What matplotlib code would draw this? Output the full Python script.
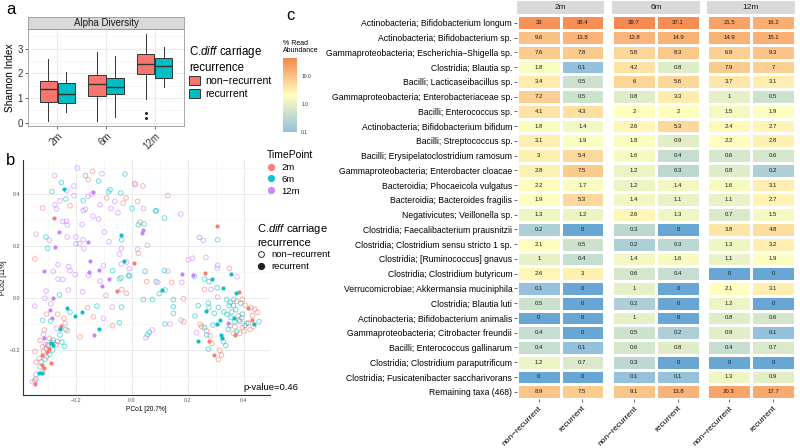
import matplotlib
matplotlib.use('Agg')
import matplotlib.pyplot as plt
import numpy as np
from matplotlib.colors import LinearSegmentedColormap, Normalize
from matplotlib.patches import Patch
from matplotlib.lines import Line2D

plt.rcParams['font.family'] = ['Liberation Sans', 'DejaVu Sans']
plt.rcParams['mathtext.fontset'] = 'custom'
plt.rcParams['mathtext.rm'] = 'Liberation Sans'
plt.rcParams['mathtext.it'] = 'Liberation Sans:italic'

RED, CYAN, PURPLE = '#F8766D', '#00BFC4', '#C77CFF'
GRID = '#EBEBEB'
W, H = 800, 448

# ========== DATA: alpha diversity (box stats: whislo, q1, med, q3, whishi) ==========
timepoints = ['2m', '6m', '12m']
groups = ['non\u2212recurrent', 'recurrent']
shannon_nonrec = [[0.07, 0.85, 1.36, 1.69, 2.57],
                  [0.08, 1.09, 1.57, 1.94, 2.85],
                  [0.95, 1.96, 2.36, 2.77, 3.59]]
shannon_rec = [[0.45, 0.81, 1.17, 1.62, 2.05],
               [0.22, 1.15, 1.43, 1.80, 2.70],
               [1.46, 1.82, 2.30, 2.62, 3.08]]
outliers_nonrec = [[], [], [0.39, 0.18]]
outliers_rec = [[], [], []]

# ========== DATA: PCoA (PCo1, PCo2) ==========
pco_2m_nonrec = np.array([
    [-0.140, 0.487], [-0.155, 0.455], [0.011, 0.441], [0.040, 0.431], [-0.089, 0.385],
    [-0.020, 0.385], [-0.030, 0.365], [0.021, 0.372], [-0.220, 0.355], [-0.318, 0.346],
    [0.030, 0.292], [-0.346, 0.150], [0.024, 0.172], [0.129, 0.394], [0.349, 0.114],
    [0.054, 0.063], [-0.035, 0.033], [-0.092, 0.010], [-0.018, 0.018], [-0.158, -0.037],
    [-0.304, -0.062], [-0.264, -0.062], [-0.242, -0.078], [-0.237, -0.097], [-0.137, -0.072],
    [-0.068, -0.106], [-0.312, -0.123], [-0.229, -0.126], [-0.185, -0.149], [-0.294, -0.155],
    [-0.327, -0.163], [-0.298, -0.185], [-0.318, -0.187], [-0.315, -0.206], [-0.345, -0.206],
    [-0.304, -0.226], [-0.330, -0.232], [-0.323, -0.245], [-0.342, -0.247], [-0.318, -0.286],
    [-0.346, -0.319], [0.143, 0.060], [0.260, 0.033], [0.185, -0.003], [0.375, -0.012],
    [0.395, -0.005], [0.405, -0.027], [0.426, -0.037], [0.440, -0.044], [0.381, -0.068],
    [0.393, -0.076], [0.431, -0.068], [0.449, -0.055], [0.186, -0.091], [0.245, -0.101],
    [0.280, -0.145], [0.286, -0.174], [0.315, -0.201], [0.321, -0.219], [0.310, -0.236],
    [0.386, -0.091], [0.395, -0.114], [0.402, -0.127], [0.423, -0.121], [0.435, -0.110],
    [0.351, -0.106], [0.369, -0.110], [0.363, -0.136], [0.385, -0.136], [0.417, -0.097],
    [0.250, -0.110], [0.268, -0.126], [-0.285, -0.170], [-0.270, -0.180], [-0.305, -0.195],
])
pco_2m_rec = np.array([
    [-0.277, 0.309], [0.010, 0.136], [0.304, 0.279], [0.263, 0.097], [-0.051, 0.026],
    [-0.254, -0.106], [-0.296, -0.196], [-0.304, -0.206], [-0.320, -0.219], [-0.289, -0.250],
    [-0.320, -0.258], [-0.313, -0.271], [-0.346, -0.329], [0.383, 0.024], [0.414, -0.040],
    [0.429, -0.086], [0.369, -0.142], [0.276, -0.164], [0.295, -0.219],
])
pco_6m_nonrec = np.array([
    [-0.024, 0.477], [-0.165, 0.471], [-0.118, 0.450], [-0.251, 0.444], [-0.285, 0.409],
    [-0.077, 0.417], [-0.082, 0.409], [-0.039, 0.404], [-0.235, 0.381], [-0.173, 0.374],
    [0.002, 0.344], [0.085, 0.335], [0.024, 0.282], [0.044, 0.285], [-0.306, 0.235],
    [-0.036, 0.224], [-0.300, 0.191], [-0.068, 0.105], [0.048, 0.103], [-0.011, 0.087],
    [0.088, 0.336], [0.117, 0.308], [0.242, 0.233], [0.307, 0.224], [0.117, 0.106],
    [0.224, 0.083], [-0.044, 0.073], [-0.038, 0.078], [-0.008, 0.085], [0.087, 0.063],
    [-0.258, 0.012], [0.042, -0.006], [0.074, -0.006], [-0.124, -0.031], [-0.036, -0.035],
    [-0.220, -0.055], [-0.318, -0.086], [-0.289, -0.088], [-0.044, -0.095], [-0.235, -0.121],
    [-0.256, -0.142], [0.063, -0.132], [0.056, -0.142], [-0.280, -0.162], [-0.265, -0.167],
    [-0.249, -0.169], [-0.239, -0.186], [-0.282, -0.200], [-0.294, -0.217], [-0.327, -0.265],
    [-0.342, -0.312], [0.119, 0.031], [0.098, 0.017], [0.260, 0.073], [0.276, 0.063],
    [0.305, 0.040], [0.149, -0.006], [0.339, -0.006], [0.274, -0.019], [0.238, -0.029],
    [0.352, -0.017], [0.364, -0.029], [0.149, -0.033], [0.276, -0.037], [0.310, -0.036],
    [0.348, -0.029], [0.149, -0.059], [0.295, -0.059], [0.329, -0.053], [0.340, -0.063],
    [0.357, -0.053], [0.395, -0.062], [0.226, -0.069], [0.119, -0.100], [0.260, -0.114],
    [0.290, -0.104], [0.367, -0.091], [0.411, -0.097], [0.455, -0.091], [0.268, -0.142],
    [0.327, -0.168], [0.336, -0.183], [0.274, -0.196], [0.375, -0.129], [0.355, -0.075],
    [0.372, -0.045], [0.385, -0.085], [0.345, -0.120], [0.405, -0.105], [0.390, -0.020],
    [0.365, -0.005], [-0.300, -0.180], [-0.310, -0.235],
])
pco_6m_rec = np.array([
    [-0.242, 0.418], [-0.037, 0.241], [-0.026, 0.141], [0.356, 0.091], [0.107, 0.031],
    [0.288, 0.072], [0.327, 0.040], [0.373, 0.018], [-0.232, -0.040], [-0.179, -0.055],
    [-0.204, -0.068], [-0.256, -0.119], [-0.115, -0.119], [-0.288, -0.174], [-0.280, -0.181],
    [-0.330, -0.287], [-0.320, -0.287], [0.264, -0.050], [0.314, -0.086], [0.364, -0.076],
    [0.305, -0.101], [0.438, -0.099], [0.320, -0.142], [0.321, -0.155], [0.236, -0.165],
])
pco_12m_nonrec = np.array([
    [-0.194, 0.500], [-0.106, 0.478], [-0.275, 0.471], [-0.206, 0.431], [0.013, 0.436],
    [-0.232, 0.413], [-0.142, 0.400], [-0.206, 0.394], [-0.156, 0.391], [-0.256, 0.374],
    [-0.060, 0.372], [-0.274, 0.359], [-0.113, 0.359], [-0.268, 0.342], [-0.165, 0.342],
    [-0.173, 0.336], [-0.074, 0.344], [0.042, 0.344], [-0.049, 0.328], [-0.138, 0.314],
    [-0.118, 0.304], [-0.246, 0.295], [-0.233, 0.295], [-0.230, 0.281], [-0.177, 0.283],
    [-0.098, 0.254], [-0.342, 0.246], [-0.230, 0.235], [-0.199, 0.235], [-0.173, 0.224],
    [-0.294, 0.222], [-0.199, 0.209], [-0.187, 0.209], [-0.081, 0.217], [0.056, 0.203],
    [-0.171, 0.190], [-0.037, 0.190], [0.021, 0.188], [-0.044, 0.169], [-0.018, 0.138],
    [-0.263, 0.128], [-0.225, 0.121], [-0.101, 0.124], [-0.037, 0.131], [-0.008, 0.113],
    [-0.280, 0.103], [-0.220, 0.105], [-0.201, 0.090], [-0.154, 0.087], [0.175, 0.323],
    [0.256, 0.221], [0.202, 0.147], [0.217, 0.153], [0.265, 0.156], [0.307, 0.126],
    [0.305, 0.115], [0.129, 0.103], [0.376, 0.082], [-0.263, 0.073], [-0.246, 0.071],
    [-0.113, 0.065], [-0.306, 0.027], [-0.226, 0.031], [-0.175, 0.024], [-0.310, -0.001],
    [-0.289, -0.022], [-0.346, -0.031], [-0.069, -0.035], [-0.101, -0.078], [-0.268, -0.117],
    [0.074, -0.123], [0.051, -0.153], [-0.315, -0.140], [-0.308, -0.179], [-0.342, -0.294],
    [-0.354, -0.322], [0.093, 0.060], [0.179, 0.060], [0.307, 0.004], [0.283, 0.033],
    [0.176, -0.085], [0.137, -0.100], [0.231, -0.133],
])
pco_12m_rec = np.array([
    [-0.137, 0.406], [-0.261, 0.254], [0.042, 0.262], [0.037, 0.249], [-0.156, 0.215],
    [-0.273, 0.195], [-0.149, 0.144], [-0.312, 0.103], [-0.118, 0.108], [-0.151, 0.100],
    [0.181, 0.092], [0.220, 0.088], [-0.080, 0.072], [-0.106, 0.046], [-0.282, 0.001],
    [-0.292, -0.045], [-0.285, -0.076], [-0.135, -0.144], [-0.312, -0.153], [0.345, -0.095],
])
p_value = 0.46

# ========== DATA: heatmap (% read abundance: [non-recurrent, recurrent]) ==========
taxa = [
    'Actinobacteria; Bifidobacterium longum',
    'Actinobacteria; Bifidobacterium sp.',
    'Gammaproteobacteria; Escherichia\u2013Shigella sp.',
    'Clostridia; Blautia sp.',
    'Bacilli; Lacticaseibacillus sp.',
    'Gammaproteobacteria; Enterobacteriaceae sp.',
    'Bacilli; Enterococcus sp.',
    'Actinobacteria; Bifidobacterium bifidum',
    'Bacilli; Streptococcus sp.',
    'Bacilli; Erysipelatoclostridium ramosum',
    'Gammaproteobacteria; Enterobacter cloacae',
    'Bacteroidia; Phocaeicola vulgatus',
    'Bacteroidia; Bacteroides fragilis',
    'Negativicutes; Veillonella sp.',
    'Clostridia; Faecalibacterium prausnitzii',
    'Clostridia; Clostridium sensu stricto 1 sp.',
    'Clostridia; [Ruminococcus] gnavus',
    'Clostridia; Clostridium butyricum',
    'Verrucomicrobiae; Akkermansia muciniphila',
    'Clostridia; Blautia luti',
    'Actinobacteria; Bifidobacterium animalis',
    'Gammaproteobacteria; Citrobacter freundii',
    'Bacilli; Enterococcus gallinarum',
    'Clostridia; Clostridium paraputrificum',
    'Clostridia; Fusicatenibacter saccharivorans',
    'Remaining taxa (468)',
]
abund_2m = [[33, 36.4], [9.6, 13.8], [7.6, 7.8], [1.8, 0.1], [3.4, 0.5], [7.2, 0.5],
            [4.1, 4.3], [1.8, 1.4], [3.1, 1.9], [3, 5.4], [2.8, 7.5], [2.2, 1.7],
            [1.9, 5.3], [1.3, 1.2], [0.2, 0], [2.1, 0.5], [1, 0.4], [2.6, 3],
            [0.1, 0], [0.5, 0], [0, 0], [0.4, 0], [0.4, 0.1], [1.2, 0.7], [0, 0], [8.9, 7.5]]
abund_6m = [[39.7, 37.1], [13.8, 14.9], [5.8, 8.3], [4.2, 0.8], [6, 5.6], [0.8, 3.3],
            [2, 2], [2.6, 5.3], [1.8, 0.9], [1.6, 0.4], [1.2, 0.3], [1.2, 1.4],
            [1.4, 1.1], [2.6, 1.3], [0.3, 0], [0.2, 0.3], [1.4, 1.6], [0.6, 0.4],
            [1, 0], [0.2, 0], [1, 0], [0.5, 0.2], [0.6, 0.8], [0.3, 0], [0.1, 0.1], [9.1, 13.8]]
abund_12m = [[21.5, 16.2], [14.9, 15.1], [6.9, 9.3], [7.9, 7], [3.7, 3.1], [1, 0.5],
             [1.5, 1.9], [2.4, 2.7], [2.2, 2.8], [0.6, 0.6], [0.8, 0.2], [1.6, 3.1],
             [1.1, 2.7], [0.7, 1.5], [3.8, 4.8], [1.3, 3.2], [1.1, 1.9], [0, 0],
             [2.1, 3.1], [1.2, 0], [0.8, 0.6], [0.9, 0.1], [0.4, 0.7], [0, 0], [1.3, 0.9], [20.3, 17.7]]
ZERO_FLOOR = 0.03  # colour floor for cells rounded to 0

# colour scale in log10 space: blue -> light blue (0.1) -> yellow -> orange
LOG_LO, LOG_HI = -1.6, 1.63
cmap_pts = [(-1.6, '#62A3D3'), (-1.0, '#95C1DC'), (0.31, '#FFFFBF'), (1.63, '#F7884F')]
cmap = LinearSegmentedColormap.from_list(
    'abund', [((v - LOG_LO) / (LOG_HI - LOG_LO), c) for v, c in cmap_pts])
norm = Normalize(LOG_LO, LOG_HI)

fig = plt.figure(figsize=(W / 100, H / 100), dpi=100)


def fx(px):
    return px / W


def fy(py):
    return 1 - py / H


# ========== PANEL A: ALPHA DIVERSITY ==========
ax_a = fig.add_axes([fx(28), fy(126), fx(184 - 28), (126 - 29) / H])
for i in range(3):
    for stats_list, outl, off, col in [(shannon_nonrec, outliers_nonrec, -0.185, RED),
                                       (shannon_rec, outliers_rec, 0.185, CYAN)]:
        lo, q1, med, q3, hi = stats_list[i]
        st = dict(whislo=lo, q1=q1, med=med, q3=q3, whishi=hi, fliers=outl[i])
        ax_a.bxp([st], positions=[i + 1 + off], widths=0.35, showcaps=False, patch_artist=True,
                 boxprops=dict(facecolor=col, edgecolor='#333333', linewidth=0.7),
                 medianprops=dict(color='#333333', linewidth=1.0),
                 whiskerprops=dict(color='#333333', linewidth=0.7),
                 flierprops=dict(marker='o', markersize=2.2, markerfacecolor='#222222',
                                 markeredgecolor='none'),
                 manage_ticks=False)
ax_a.set_xlim(0.4, 3.6)
ax_a.set_ylim(-0.13, 3.79)
ax_a.set_xticks([1, 2, 3])
ax_a.set_xticklabels(timepoints, rotation=45, ha='right', rotation_mode='anchor')
ax_a.set_yticks([0, 1, 2, 3])
ax_a.set_yticks([0.5, 1.5, 2.5, 3.5], minor=True)
ax_a.grid(True, which='major', color=GRID, linewidth=0.8)
ax_a.grid(True, which='minor', axis='y', color='#F4F4F4', linewidth=0.5)
ax_a.set_axisbelow(True)
ax_a.tick_params(labelsize=7, length=2, width=0.5, color='#333333', labelcolor='#333333', pad=1.5)
ax_a.tick_params(which='minor', length=0)
for s in ax_a.spines.values():
    s.set_color('#999999')
    s.set_linewidth(0.6)
ax_a.set_ylabel('Shannon Index', fontsize=7.3, labelpad=2)

strip_a = fig.add_axes([fx(28), fy(29), fx(184 - 28), 12 / H])
strip_a.set_facecolor('#D9D9D9')
strip_a.set_xticks([]); strip_a.set_yticks([])
for s in strip_a.spines.values():
    s.set_color('#999999'); s.set_linewidth(0.6)
strip_a.text(0.5, 0.5, 'Alpha Diversity', ha='center', va='center', fontsize=7, color='#1A1A1A')

box_handles = [Patch(facecolor=RED, edgecolor='#333333', linewidth=0.7),
               Patch(facecolor=CYAN, edgecolor='#333333', linewidth=0.7)]
leg_a = fig.legend(box_handles, groups, title='C.$\\it{diff}$ carriage\nrecurrence',
                   loc='upper left', bbox_to_anchor=(fx(189), fy(44)), frameon=False,
                   fontsize=7.6, title_fontsize=8.3, handlelength=1.0, handleheight=0.9,
                   handletextpad=0.5, labelspacing=0.25, borderpad=0, borderaxespad=0)
leg_a._legend_box.align = 'left'

# ========== PANEL B: PCoA ==========
ax_b = fig.add_axes([fx(23), fy(395), fx(270 - 23), (395 - 160) / H])
pco_sets = [(pco_2m_nonrec, RED, False), (pco_6m_nonrec, CYAN, False), (pco_12m_nonrec, PURPLE, False),
            (pco_2m_rec, RED, True), (pco_6m_rec, CYAN, True), (pco_12m_rec, PURPLE, True)]
for pts, col, filled in pco_sets:
    if filled:
        ax_b.scatter(pts[:, 0], pts[:, 1], s=9, color=col, alpha=0.95, linewidths=0, zorder=3)
    else:
        ax_b.scatter(pts[:, 0], pts[:, 1], s=11, facecolors='none', edgecolors=col,
                     alpha=0.55, linewidths=0.7, zorder=2)
ax_b.set_xlim(-0.388, 0.494)
ax_b.set_ylim(-0.373, 0.531)
ax_b.set_xticks([-0.2, 0.0, 0.2, 0.4])
ax_b.set_xticks([-0.3, -0.1, 0.1, 0.3], minor=True)
ax_b.set_yticks([-0.2, 0.0, 0.2, 0.4])
ax_b.set_yticks([-0.3, -0.1, 0.1, 0.3, 0.5], minor=True)
ax_b.xaxis.set_major_formatter(lambda v, p: f'{v:.1f}'.replace('-', '\u2212'))
ax_b.yaxis.set_major_formatter(lambda v, p: f'{v:.1f}'.replace('-', '\u2212'))
ax_b.grid(True, which='major', color=GRID, linewidth=0.7)
ax_b.grid(True, which='minor', color='#F5F5F5', linewidth=0.5)
ax_b.set_axisbelow(True)
ax_b.tick_params(labelsize=3.8, length=0, pad=2, labelcolor='#4D4D4D')
ax_b.tick_params(which='minor', length=0)
ax_b.spines['top'].set_visible(False)
ax_b.spines['right'].set_visible(False)
for s in ['left', 'bottom']:
    ax_b.spines[s].set_color('#333333')
    ax_b.spines[s].set_linewidth(0.8)
ax_b.set_xlabel('PCo1 [20.7%]', fontsize=4.8, labelpad=2)
ax_b.set_ylabel('PCo2 [11%]', fontsize=4.8, labelpad=2)
ax_b.text(0.594, -0.346, f'p-value={p_value}', ha='right', va='center', fontsize=6.8,
          clip_on=False)

tp_handles = [Line2D([], [], marker='o', linestyle='none', markersize=4.2, color=c, alpha=0.9)
              for c in (RED, CYAN, PURPLE)]
leg_b1 = fig.legend(tp_handles, timepoints, title='TimePoint', loc='upper left',
                    bbox_to_anchor=(fx(267), fy(150)), frameon=False, fontsize=6.8,
                    title_fontsize=7.5, handlelength=0.8, handletextpad=0.7,
                    labelspacing=0.3, borderpad=0, borderaxespad=0)
leg_b1._legend_box.align = 'left'
rec_handles = [Line2D([], [], marker='o', linestyle='none', markersize=4.2,
                      markerfacecolor='none', markeredgecolor='#333333', markeredgewidth=0.7),
               Line2D([], [], marker='o', linestyle='none', markersize=4.2, color='#222222')]
leg_b2 = fig.legend(rec_handles, groups, title='C.$\\it{diff}$ carriage\nrecurrence',
                    loc='upper left', bbox_to_anchor=(fx(257), fy(222)), frameon=False,
                    fontsize=6.8, title_fontsize=8, handlelength=0.8, handletextpad=0.7,
                    labelspacing=0.3, borderpad=0, borderaxespad=0)
leg_b2._legend_box.align = 'left'

# ========== PANEL C: HEATMAP ==========
facet_x = [(517, 604), (612, 700), (707, 795)]
top_px, bot_px = 15.5, 399
for k, (tp, data) in enumerate(zip(timepoints, [abund_2m, abund_6m, abund_12m])):
    x0, x1 = facet_x[k]
    ax = fig.add_axes([fx(x0), fy(bot_px), fx(x1 - x0), (bot_px - top_px) / H])
    vals = np.array(data, dtype=float)
    col_vals = np.log10(np.maximum(vals, ZERO_FLOOR))
    ax.pcolormesh(np.arange(3) - 0.5, np.arange(len(taxa) + 1) - 0.5, col_vals,
                  cmap=cmap, norm=norm, edgecolors='white', linewidth=0.9)
    for r in range(len(taxa)):
        for c in range(2):
            ax.text(c, r, f'{vals[r, c]:g}', ha='center', va='center', fontsize=4.3,
                    color='#1A1A1A')
    ax.set_xlim(-0.5, 1.5)
    ax.set_ylim(len(taxa) - 0.5, -0.5)
    for s in ax.spines.values():
        s.set_visible(False)
    ax.set_xticks([0, 1])
    ax.set_xticklabels(groups, rotation=45, ha='right', rotation_mode='anchor')
    ax.tick_params(axis='x', labelsize=6, length=2, width=0.5, color='#333333', pad=2)
    if k == 0:
        ax.set_yticks(np.arange(len(taxa)))
        ax.set_yticklabels(taxa)
        ax.tick_params(axis='y', labelsize=6.2, length=2, width=0.5, color='#333333', pad=1.5)
    else:
        ax.set_yticks([])
    strip = fig.add_axes([fx(x0), fy(14), fx(x1 - x0), 12.5 / H])
    strip.set_facecolor('#D9D9D9')
    strip.set_xticks([]); strip.set_yticks([])
    for s in strip.spines.values():
        s.set_visible(False)
    strip.text(0.5, 0.5, tp, ha='center', va='center', fontsize=6, color='#1A1A1A')

# colour bar
cax = fig.add_axes([fx(283), fy(131.7), fx(14), 73.4 / H])
grad = np.linspace(-1.0, LOG_HI, 256).reshape(-1, 1)
cax.imshow(grad, aspect='auto', origin='lower', cmap=cmap, norm=norm,
           extent=[0, 1, -1.0, LOG_HI])
cax.set_xticks([])
cax.yaxis.tick_right()
cax.set_yticks([-1, 0, 1])
cax.set_yticklabels(['0.1', '1.0', '10.0'])
cax.tick_params(axis='y', labelsize=3.6, length=0, pad=3, labelcolor='#333333')
for s in cax.spines.values():
    s.set_visible(False)
fig.text(fx(283), fy(40), '% Read\nAbundance', ha='left', va='top', fontsize=5,
         linespacing=1.0)

# panel letters
fig.text(fx(6), fy(10), 'a', fontsize=12, va='center', ha='left')
fig.text(fx(6), fy(160), 'b', fontsize=12, va='center', ha='left')
fig.text(fx(286), fy(15), 'c', fontsize=12, va='center', ha='left')

plt.savefig('out.png', dpi=100)
